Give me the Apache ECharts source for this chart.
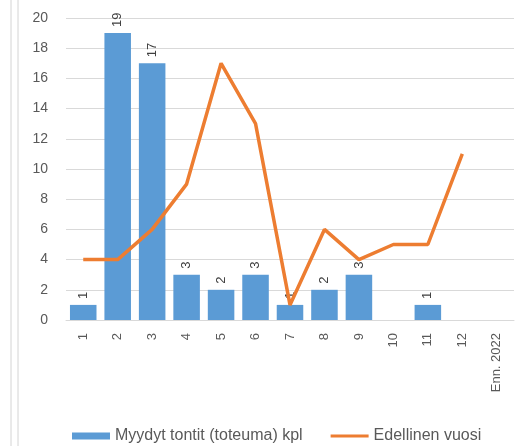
<!DOCTYPE html>
<html>
<head>
<meta charset="utf-8">
<script src="https://cdn.jsdelivr.net/npm/echarts@6/dist/echarts.min.js"></script>
<style>
  html, body { margin: 0; padding: 0; background: #fff; }
  #chart { width: 518px; height: 446px; }
</style>
</head>
<body>
<div id="chart"></div>
<script>
var categories = ['1', '2', '3', '4', '5', '6', '7', '8', '9', '10', '11', '12', 'Enn. 2022'];
var soldPlots = [1, 19, 17, 3, 2, 3, 1, 2, 3, null, 1, null, null];
var previousYear = [4, 4, 6, 9, 17, 13, 1, 6, 4, 5, 5, 11, null];

var FONT = '"Liberation Sans", Arial, sans-serif';
var TEXT_GRAY = '#595959';

function drawChart() {
    var chart = echarts.init(document.getElementById('chart'));
    var option = {
        animation: false,
        textStyle: { fontFamily: FONT },
        grid: { left: 66, right: 4, top: 18, bottom: 126 },
        legend: {
            left: 67,
            top: 423,
            itemWidth: 38,
            itemHeight: 7,
            itemGap: 28,
            textStyle: { color: TEXT_GRAY, fontSize: 16, fontFamily: FONT },
            data: [
                { name: 'Myydyt tontit (toteuma) kpl', icon: 'rect' },
                { name: 'Edellinen vuosi', icon: 'path://M0,0 L40,0 L40,3 L0,3 Z' }
            ]
        },
        xAxis: {
            type: 'category',
            data: categories,
            axisLine: { lineStyle: { color: '#D9D9D9' } },
            axisTick: { show: false },
            axisLabel: { rotate: 90, color: TEXT_GRAY, fontSize: 13, margin: 13 }
        },
        yAxis: {
            type: 'value',
            min: 0,
            max: 20,
            interval: 2,
            axisLine: { show: false },
            axisTick: { show: false },
            axisLabel: { color: TEXT_GRAY, fontSize: 14, margin: 18 },
            splitLine: { lineStyle: { color: '#D9D9D9' } }
        },
        series: [
            {
                name: 'Myydyt tontit (toteuma) kpl',
                type: 'bar',
                data: soldPlots,
                barCategoryGap: '23%',
                itemStyle: { color: '#5B9BD5' },
                label: {
                    show: true,
                    position: 'top',
                    rotate: 90,
                    align: 'left',
                    verticalAlign: 'middle',
                    distance: 6,
                    color: '#404040',
                    fontSize: 13
                }
            },
            {
                name: 'Edellinen vuosi',
                type: 'line',
                data: previousYear,
                symbol: 'none',
                showSymbol: false,
                lineStyle: { color: '#ED7D31', width: 3.5 },
                itemStyle: { color: '#ED7D31' }
            }
        ],
        graphic: [
            { type: 'line', shape: { x1: 11, y1: 0, x2: 11, y2: 446 }, style: { stroke: '#D4D4D4', lineWidth: 1 } },
            { type: 'line', shape: { x1: 18, y1: 0, x2: 18, y2: 446 }, style: { stroke: '#D4D4D4', lineWidth: 1 } }
        ]
    };
    chart.setOption(option);
}

drawChart();
</script>
</body>
</html>
